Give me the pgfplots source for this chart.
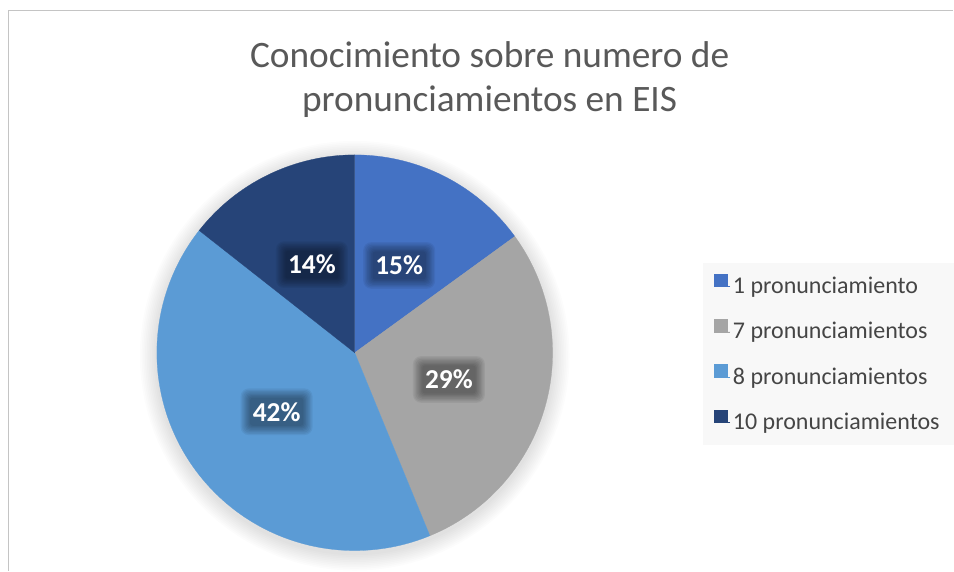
\documentclass[border=0pt]{standalone}
\usepackage{pgfplots}
\pgfplotsset{compat=1.18}
\usepackage{pgfplotstable}
\usepackage{fontspec}
\setmainfont{Carlito}
\definecolor{cA}{HTML}{4472C4}
\definecolor{cB}{HTML}{A5A5A5}
\definecolor{cC}{HTML}{5B9BD5}
\definecolor{cD}{HTML}{264478}
\definecolor{titlegray}{HTML}{595959}
\definecolor{leggray}{HTML}{454545}
\definecolor{framegray}{HTML}{C4C4C4}
\definecolor{legbg}{HTML}{F8F8F8}

\pgfplotstableread{
cat value
1 15.0
7 28.8
8 41.8
10 14.4
}\piedata
\pgfplotstablegetelem{0}{value}\of\piedata \let\vA\pgfplotsretval
\pgfplotstablegetelem{1}{value}\of\piedata \let\vB\pgfplotsretval
\pgfplotstablegetelem{2}{value}\of\piedata \let\vC\pgfplotsretval
\pgfplotstablegetelem{3}{value}\of\piedata \let\vD\pgfplotsretval
\pgfmathsetmacro\aZero{90}
\pgfmathsetmacro\aOne{\aZero-3.6*\vA}
\pgfmathsetmacro\aTwo{\aOne-3.6*\vB}
\pgfmathsetmacro\aThree{\aTwo-3.6*\vC}
\pgfmathsetmacro\aFour{\aThree-3.6*\vD}
% pie centre and radius (pixel units)
\def\cx{355}\def\cy{218}\def\R{198}\def\rl{98}
\pgfmathsetmacro\mA{(\aZero+\aOne)/2}
\pgfmathsetmacro\mB{(\aOne+\aTwo)/2}
\pgfmathsetmacro\mC{(\aTwo+\aThree)/2}
\pgfmathsetmacro\mD{(\aThree+\aFour)/2}
\pgfmathsetmacro\lAx{\cx+\rl*cos(\mA)}\pgfmathsetmacro\lAy{\cy+\rl*sin(\mA)}
\pgfmathsetmacro\lBx{\cx+\rl*cos(\mB)}\pgfmathsetmacro\lBy{\cy+\rl*sin(\mB)}
\pgfmathsetmacro\lCx{\cx+\rl*cos(\mC)}\pgfmathsetmacro\lCy{\cy+\rl*sin(\mC)}
\pgfmathsetmacro\lDx{\cx+\rl*cos(\mD)}\pgfmathsetmacro\lDy{\cy+\rl*sin(\mD)}

\tikzset{
  dlab/.style={text=white, font=\bfseries\fontsize{20.5}{20.5}\selectfont, inner sep=0pt},
  shl/.style={fill=black, fill opacity=0.055, inner sep=0pt, draw=none},
}
\newcommand\dlabel[3]{%
  \node[shl, minimum width=54pt, minimum height=35pt, rounded corners=6pt] at (axis cs:#1,#2) {};
  \node[shl, minimum width=52pt, minimum height=33pt, rounded corners=5pt] at (axis cs:#1,#2) {};
  \node[shl, minimum width=50pt, minimum height=31pt, rounded corners=4.5pt] at (axis cs:#1,#2) {};
  \node[shl, minimum width=48pt, minimum height=29pt, rounded corners=4pt] at (axis cs:#1,#2) {};
  \node[shl, minimum width=46pt, minimum height=27pt, rounded corners=3.5pt] at (axis cs:#1,#2) {};
  \node[shl, minimum width=44pt, minimum height=25pt, rounded corners=3pt] at (axis cs:#1,#2) {};
  \node[shl, minimum width=42pt, minimum height=23pt, rounded corners=2.5pt] at (axis cs:#1,#2) {};
  \node[shl, minimum width=40pt, minimum height=21pt, rounded corners=2pt] at (axis cs:#1,#2) {};
  \node[dlab] at (axis cs:#1,#2) {#3};
}

\begin{document}
\begin{tikzpicture}
\begin{axis}[
  hide axis, scale only axis,
  width=715.5pt, height=428.25pt,
  xmin=0, xmax=954, ymin=0, ymax=571,
  clip=false,
  legend style={
    at={(axis cs:703,308)}, anchor=north west,
    fill=legbg, draw=none,
    font=\fontsize{18}{18}\selectfont,
    text=leggray,
    inner xsep=8.5pt, inner ysep=8pt,
    row sep=15.6pt,
    /tikz/every even column/.append style={column sep=0pt},
  },
  legend cell align=left,
  legend image code/.code={\fill[#1,draw=none] (0pt,-0.5pt) rectangle (10pt,9.5pt);
    \path (0pt,0pt) -- (12pt,0pt);},
]
\fill[white] (axis cs:0,0) rectangle (axis cs:954,571);
\draw[framegray, line width=1.1pt] (axis cs:8.5,0) -- (axis cs:8.5,560.5) -- (axis cs:954,560.5);

% soft shadow around the pie
\pgfplotsinvokeforeach{1,...,10}{
  \addplot[forget plot, draw=none, fill=black, fill opacity=0.013, domain=0:360, samples=121]
    ({\cx+(\R+#1*1.7)*cos(x)},{\cy-3+(\R+#1*1.7)*sin(x)}) -- cycle;
}

\addplot[fill=cA, draw=cA, line width=0.2pt, domain=\aOne:\aZero, samples=61]
  ({\cx+\R*cos(x)},{\cy+\R*sin(x)}) -- (axis cs:\cx,\cy) -- cycle;
\addlegendentry{1 pronunciamiento}
\addplot[fill=cB, draw=cB, line width=0.2pt, domain=\aTwo:\aOne, samples=91]
  ({\cx+\R*cos(x)},{\cy+\R*sin(x)}) -- (axis cs:\cx,\cy) -- cycle;
\addlegendentry{7 pronunciamientos}
\addplot[fill=cC, draw=cC, line width=0.2pt, domain=\aThree:\aTwo, samples=121]
  ({\cx+\R*cos(x)},{\cy+\R*sin(x)}) -- (axis cs:\cx,\cy) -- cycle;
\addlegendentry{8 pronunciamientos}
\addplot[fill=cD, draw=cD, line width=0.2pt, domain=\aFour:\aThree, samples=61]
  ({\cx+\R*cos(x)},{\cy+\R*sin(x)}) -- (axis cs:\cx,\cy) -- cycle;
\addlegendentry{10 pronunciamientos}

\dlabel{\lAx}{\lAy}{15\%}
\dlabel{\lBx}{\lBy}{29\%}
\dlabel{\lCx}{\lCy}{42\%}
\dlabel{\lDx}{\lDy}{14\%}

\node[anchor=base, text=titlegray, font=\fontsize{28}{28}\selectfont] at (axis cs:490,503.7) {Conocimiento sobre numero de};
\node[anchor=base, text=titlegray, font=\fontsize{28}{28}\selectfont] at (axis cs:490,459.3) {pronunciamientos en EIS};
\end{axis}
\end{tikzpicture}
\end{document}
